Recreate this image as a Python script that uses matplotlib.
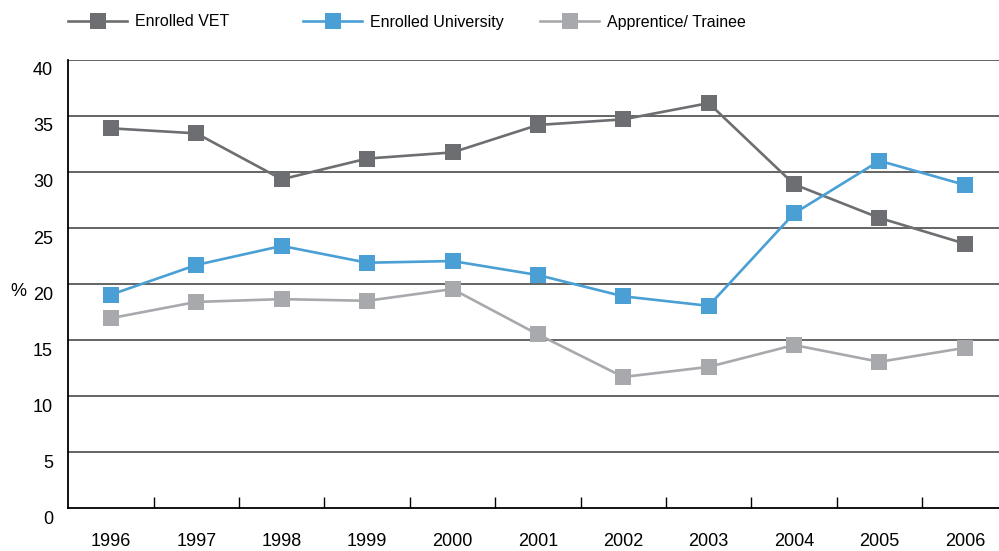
import matplotlib
matplotlib.use("Agg")
import matplotlib.pyplot as plt
import matplotlib.transforms as mtransforms
from matplotlib.lines import Line2D

plt.rcParams['font.family'] = ['Liberation Sans', 'DejaVu Sans']

# Datos
anios = ['1996', '1997', '1998', '1999', '2000', '2001',
         '2002', '2003', '2004', '2005', '2006']
vet = [33.9, 33.45, 29.35, 31.2, 31.75, 34.2, 34.7, 36.15, 28.9, 25.9, 23.6]
universidad = [19.05, 21.7, 23.4, 21.9, 22.05, 20.8, 18.9, 18.05, 26.3, 31.0, 28.85]
aprendiz = [16.95, 18.4, 18.65, 18.5, 19.55, 15.5, 11.7, 12.6, 14.55, 13.05, 14.3]

series = ['Enrolled VET', 'Enrolled University', 'Apprentice/ Trainee']
colores = ['#6d6e71', '#4a9fd5', '#a7a9ac']
ticks_y = [0, 5, 10, 15, 20, 25, 30, 35, 40]

fig = plt.figure(figsize=(9.99, 5.51), dpi=100)
ax = fig.add_axes([68.3 / 999, 43 / 551, 1 - 68.3 / 999, 448 / 551])

x = list(range(len(anios)))
for datos, color in zip([vet, universidad, aprendiz], colores):
    ax.plot(x, datos, color=color, linewidth=1.9, marker='s',
            markersize=12, markeredgewidth=0, zorder=3)

# Lineas horizontales de la rejilla
for v in ticks_y[1:]:
    ax.axhline(v, color='#3a3a3a', linewidth=1.1, zorder=1)

ax.set_xlim(-0.5, 10.4)
ax.set_ylim(0, 40)
ax.set_yticks(ticks_y)
ax.set_xticks(x)
ax.set_xticklabels(anios)
ax.set_xticks([i + 0.5 for i in range(len(anios) - 1)], minor=True)

ax.tick_params(axis='y', length=0, pad=11, labelsize=13)
ax.tick_params(axis='x', which='major', length=0, pad=18, labelsize=13)
ax.tick_params(axis='x', which='minor', direction='in', length=8, width=1, color='black')

# las etiquetas del eje y van un poco por debajo de su linea
desplazamiento = mtransforms.ScaledTranslation(0, -9 / 100, fig.dpi_scale_trans)
for etiqueta in ax.get_yticklabels():
    etiqueta.set_transform(etiqueta.get_transform() + desplazamiento)

for lado in ['top', 'right']:
    ax.spines[lado].set_visible(False)
for lado in ['left', 'bottom']:
    ax.spines[lado].set_linewidth(1.3)
    ax.spines[lado].set_color('black')

fig.text(18 / 999, 1 - 292 / 551, '%', fontsize=13, ha='center', va='center')

# Leyenda: una entrada por columna, como en el original
pos_leyenda = [68, 303, 540]
for nombre, color, px in zip(series, colores, pos_leyenda):
    h = Line2D([0], [0], color=color, linewidth=1.9, marker='s',
               markersize=12, markeredgewidth=0)
    fig.legend([h], [nombre], loc='center left',
               bbox_to_anchor=(px / 999, 1 - 22 / 551), frameon=False,
               fontsize=11.5, handlelength=3.7, handletextpad=0.5,
               borderpad=0, borderaxespad=0)

fig.savefig('out.png', dpi=100)
